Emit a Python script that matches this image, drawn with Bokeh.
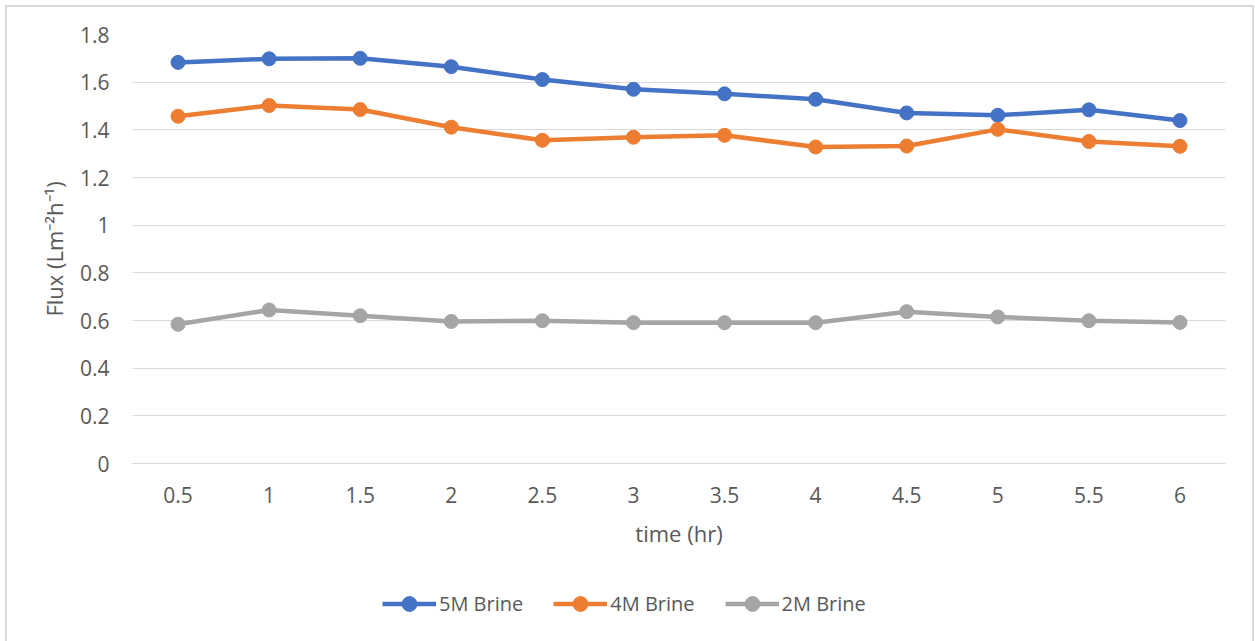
from bokeh.plotting import figure
from bokeh.models import FactorRange, Range1d, FixedTicker, Legend, LegendItem
from bokeh.layouts import column
from bokeh.embed import file_html
from bokeh.resources import INLINE

# ---- data ----
time_labels = ["0.5", "1", "1.5", "2", "2.5", "3", "3.5", "4", "4.5", "5", "5.5", "6"]
flux_5m = [1.683, 1.698, 1.700, 1.665, 1.611, 1.570, 1.551, 1.528, 1.471, 1.461, 1.484, 1.439]
flux_4m = [1.457, 1.502, 1.485, 1.411, 1.356, 1.369, 1.377, 1.328, 1.332, 1.402, 1.351, 1.331]
flux_2m = [0.584, 0.644, 0.620, 0.596, 0.599, 0.591, 0.591, 0.591, 0.637, 0.615, 0.599, 0.592]
series_names = ["5M Brine", "4M Brine", "2M Brine"]
series_colors = ["#4472C4", "#ED7D31", "#A5A5A5"]
y_ticks = [0, 0.2, 0.4, 0.6, 0.8, 1, 1.2, 1.4, 1.6, 1.8]
y_tick_labels = ["0", "0.2", "0.4", "0.6", "0.8", "1", "1.2", "1.4", "1.6", "1.8"]
x_title = "time (hr)"
y_title = "Flux (Lm\u207b\u00b2h\u207b\u00b9)"

FONT = "Open Sans"
TXT = "#595959"
GRID = "#D9D9D9"
LINE_W = 4.5
MARK = 14

x_range = FactorRange(*time_labels, range_padding=0)

p = figure(
    width=1245, height=560,
    x_range=x_range,
    y_range=Range1d(0, 1.8),
    output_backend="svg", toolbar_location=None,
    min_border_left=125, min_border_right=27, min_border_top=27, min_border_bottom=104,
)
p.outline_line_color = None
p.background_fill_color = "white"
p.border_fill_color = "white"

p.xgrid.grid_line_color = None
p.ygrid.grid_line_color = GRID
p.ygrid.grid_line_width = 1
p.yaxis.ticker = FixedTicker(ticks=y_ticks)
p.yaxis.major_label_overrides = dict(zip(y_ticks, y_tick_labels))

for ax in (p.xaxis[0], p.yaxis[0]):
    ax.major_tick_line_color = None
    ax.minor_tick_line_color = None
    ax.major_tick_out = 0
    ax.major_tick_in = 0
    ax.major_label_text_font = FONT
    ax.major_label_text_font_size = "21px"
    ax.major_label_text_color = TXT
    ax.axis_label_text_font = FONT
    ax.axis_label_text_font_size = "22px"
    ax.axis_label_text_font_style = "normal"
    ax.axis_label_text_color = TXT

p.xaxis.axis_line_color = GRID
p.yaxis.axis_line_color = None
p.xaxis.major_label_standoff = 23
p.yaxis.major_label_standoff = 23
p.xaxis.axis_label = x_title
p.yaxis.axis_label = y_title
p.xaxis.axis_label_standoff = 12
p.yaxis.axis_label_standoff = 8

series = [flux_5m, flux_4m, flux_2m]
for name, vals, col in zip(series_names, series, series_colors):
    p.line(time_labels, vals, line_color=col, line_width=LINE_W)
    p.scatter(time_labels, vals, size=MARK, fill_color=col, line_color=col)

# legend strip below the chart (its renderers lie outside its visible y range)
leg = figure(
    width=1245, height=80, x_range=x_range, y_range=Range1d(10, 11),
    x_axis_type=None, y_axis_type=None,
    output_backend="svg", toolbar_location=None,
    min_border=0,
)
leg.outline_line_color = None
leg.grid.grid_line_color = None
leg.border_fill_color = "white"
items = []
for name, vals, col in zip(series_names, series, series_colors):
    lr = leg.line(time_labels, vals, line_color=col, line_width=LINE_W)
    sr = leg.scatter(time_labels, vals, size=MARK, fill_color=col, line_color=col)
    items.append(LegendItem(label=name, renderers=[lr, sr]))
legend = Legend(
    items=items, orientation="horizontal", location=(250, 25),
    label_text_font=FONT, label_text_font_size="20px", label_text_color=TXT,
    glyph_width=54, glyph_height=37, label_height=37, label_standoff=3, spacing=30,
    padding=0, margin=0, border_line_color=None, background_fill_alpha=0,
)
leg.add_layout(legend, "center")

layout = column(p, leg, spacing=0)
layout.styles = {"border": "2px solid #d9d9d9", "margin-left": "5px", "margin-top": "5px"}

open("out.html", "w").write(file_html(layout, INLINE))
